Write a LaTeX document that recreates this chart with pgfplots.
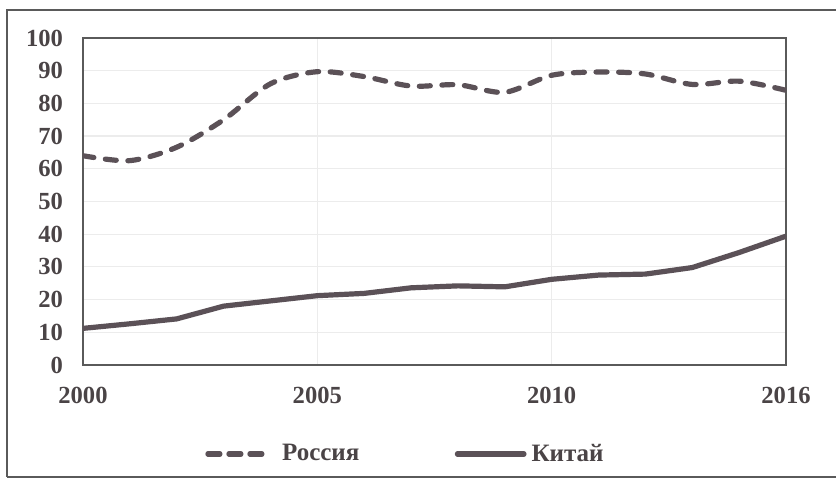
\documentclass[border=0pt]{standalone}
\usepackage{fontspec}
\setmainfont{Liberation Serif}
\usepackage{pgfplots}
\pgfplotsset{compat=1.18}
\definecolor{linec}{HTML}{5B5157}
\definecolor{textc}{HTML}{4A4446}
\definecolor{framec}{HTML}{5A5A5A}
\definecolor{gridc}{HTML}{ECECEC}
\begin{document}
\begin{tikzpicture}
\useasboundingbox (0pt,0pt) rectangle (418pt,240.5pt);
\draw[framec, line width=0.7pt] (3.5pt,2pt) -- (3.5pt,235.5pt) -- (420pt,235.5pt);
\draw[framec, line width=0.7pt] (3.5pt,2pt) -- (420pt,2pt);
\begin{axis}[
  at={(41.5pt,58pt)}, anchor=south west,
  scale only axis, width=351.5pt, height=163.5pt,
  xmin=0, xmax=15, ymin=0, ymax=100,
  xtick={0,5,10,15}, xticklabels={2000,2005,2010,2016},
  ytick={0,10,...,100},
  major tick length=0pt,
  axis line style={framec, line width=0.7pt},
  grid=major, grid style={gridc, line width=0.6pt},
  tick label style={font=\bfseries\fontsize{12.3}{14}\selectfont, text=textc},
  /pgf/number format/assume math mode=true,
  xticklabel style={yshift=-7.5pt},
  yticklabel style={xshift=-6.5pt},
  legend columns=-1,
  legend style={at={(axis description cs:0.174,-0.272)}, anchor=west,
    draw=none, fill=none, inner sep=0pt, outer sep=0pt, column sep=0pt,
    nodes={inner sep=0pt, text=textc, font=\bfseries\fontsize{12.5}{14}\selectfont}},
]
\addplot[linec, line width=2.6pt, line cap=round, dash pattern=on 5.5pt off 5.8pt, smooth, tension=0.5,
  legend image code/.code={\draw[linec, line width=2.6pt, line cap=round, dash pattern=on 6pt off 4.5pt] (1.2pt,0pt) -- (29pt,0pt); \path (37pt,0pt);}]
coordinates {
(0,64.0) (1,62.5) (2,66.6) (3,75.0) (4,86.0) (5,89.7) (6,88.2) (7,85.3)
(8,85.7) (9,83.4) (10,88.6) (11,89.6) (12,89.0) (13,85.8) (14,86.8) (15,84.0)
};
\addlegendentry{Россия}
\addplot[linec, line width=2.6pt, line join=round,
  legend image code/.code={\path (-46.5pt,0pt); \draw[linec, line width=2.6pt, line cap=round] (1.2pt,0pt) -- (34.5pt,0pt); \path (37pt,0pt);}]
coordinates {
(0,11.2) (1,12.6) (2,14.1) (3,18.0) (4,19.6) (5,21.2) (6,21.9) (7,23.6)
(8,24.2) (9,23.9) (10,26.2) (11,27.5) (12,27.8) (13,29.8) (14,34.4) (15,39.4)
};
\addlegendentry{Китай}
\end{axis}
\end{tikzpicture}
\end{document}
